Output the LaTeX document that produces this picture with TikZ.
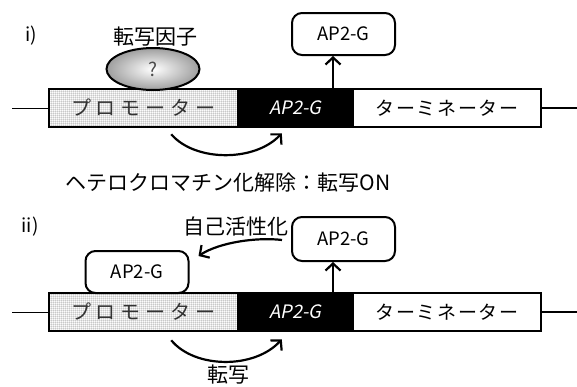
\documentclass[tikz,border=0pt]{standalone}
\usepackage{fontspec}
\setmainfont{Noto Sans CJK JP}
\newfontfamily\jpit[FakeSlant=0.2]{Noto Sans CJK JP}
\usetikzlibrary{arrows.meta,shapes.geometric,patterns.meta,calc}
\tikzdeclarepattern{
  name=finedots,
  type=uncolored,
  bottom left={(-1.1pt,-1.1pt)},
  top right={(1.1pt,1.1pt)},
  tile size={(2.2pt,2.2pt)},
  code={\fill (0pt,0pt) circle (0.72pt);}
}
\newcommand\cbox[2]{\makebox[#1]{#2}}
\begin{document}
\begin{tikzpicture}[x=1pt,y=-1pt,
  seg/.style={draw=black,line width=2.5pt,minimum height=38pt,inner sep=0pt,anchor=center},
  prombox/.style={seg,minimum width=189pt,preaction={fill=white},pattern=finedots,pattern color=black!60},
  genebox/.style={seg,minimum width=115pt,fill=black,text=white,font=\fontsize{18.5}{18.5}\jpit},
  termbox/.style={seg,minimum width=188pt,fill=white,font=\fontsize{19}{19}\selectfont},
  protbox/.style={draw=black,line width=2pt,rounded corners=10pt,minimum width=103pt,minimum height=42pt,inner sep=0pt,font=\fontsize{18.5}{18.5}\selectfont,fill=white},
  arr/.style={line width=2.2pt,-{Straight Barb[length=7pt,width=15pt,line width=2.2pt]}},
  jp/.style={font=\fontsize{21}{21}\selectfont,inner sep=0pt},
  lab/.style={font=\fontsize{19}{19}\selectfont,inner sep=0pt}]
\useasboundingbox (0,0) rectangle (577,386);
% ---------- i)
\node[lab] (li) at (31,36) {i)};
\node[prombox] (p1) at (143.5,108) {};
\node[font=\fontsize{20}{20}\selectfont,text=black!80] (pt1) at (p1.center) {\cbox{25pt}{プ}\cbox{25pt}{ロ}\cbox{25pt}{モ}\cbox{25pt}{ー}\cbox{25pt}{タ}\cbox{25pt}{ー}};
\node[genebox] (g1) at (295.5,108) {AP2-G};
\node[termbox] (t1) at (447,108) {\cbox{20.7pt}{タ}\cbox{20.7pt}{ー}\cbox{20.7pt}{ミ}\cbox{20.7pt}{ネ}\cbox{20.7pt}{ー}\cbox{20.7pt}{タ}\cbox{20.7pt}{ー}};
\coordinate (l1) at (12,108);
\coordinate (r1) at (577,108);
\draw[line width=1pt] (l1) -- (p1.west);
\draw[line width=2pt] (t1.east) -- (r1);
\node[ellipse,draw=black,line width=2pt,minimum width=93pt,minimum height=42pt,inner sep=0pt,
  shading=radial,inner color=white,outer color=black!38,text=black!70,font=\fontsize{19}{19}\selectfont] (tf) at (153,69) {?};
\node[jp] (tfl) at (155,37) {転写因子};
\node[protbox] (b1) at (343.5,34) {AP2-G};
\draw[arr] ([xshift=37.5pt]g1.north) -- ([xshift=-10.5pt]b1.south);
\draw[arr] ([xshift=-68pt,yshift=-6pt]p1.south east) .. controls (195,162) and (255,162) .. ([xshift=45pt,yshift=-5pt]g1.south west);
\node[jp] (c1) at (228,183) {ヘテロクロマチン化解除：転写ON};
% ---------- ii)
\node[lab] (lii) at (30,227) {ii)};
\node[prombox] (p2) at (143.5,312) {};
\node[font=\fontsize{20}{20}\selectfont,text=black!80] (pt2) at (p2.center) {\cbox{25pt}{プ}\cbox{25pt}{ロ}\cbox{25pt}{モ}\cbox{25pt}{ー}\cbox{25pt}{タ}\cbox{25pt}{ー}};
\node[genebox] (g2) at (295.5,312) {AP2-G};
\node[termbox] (t2) at (447,312) {\cbox{20.7pt}{タ}\cbox{20.7pt}{ー}\cbox{20.7pt}{ミ}\cbox{20.7pt}{ネ}\cbox{20.7pt}{ー}\cbox{20.7pt}{タ}\cbox{20.7pt}{ー}};
\coordinate (l2) at (12,312);
\coordinate (r2) at (577,312);
\draw[line width=1pt] (l2) -- (p2.west);
\draw[line width=2pt] (t2.east) -- (r2);
\node[protbox] (a2) at (137,272) {AP2-G};
\node[protbox,minimum height=44pt] (b2) at (343.5,239) {AP2-G};
\draw[arr] ([xshift=37.5pt]g2.north) -- ([xshift=-10.5pt]b2.south);
\draw[arr] ([xshift=-9pt,yshift=-1pt]b2.west) .. controls (258,237) and (220,242) .. ([xshift=9pt,yshift=-6pt]a2.north east);
\node[jp] (c3) at (236,227) {自己活性化};
\draw[arr] ([xshift=-68pt,yshift=-8pt]p2.south east) .. controls (195,369) and (255,369) .. ([xshift=45pt,yshift=-7pt]g2.south west);
\node[jp] (c2) at (228,375) {転写};
\end{tikzpicture}
\end{document}
